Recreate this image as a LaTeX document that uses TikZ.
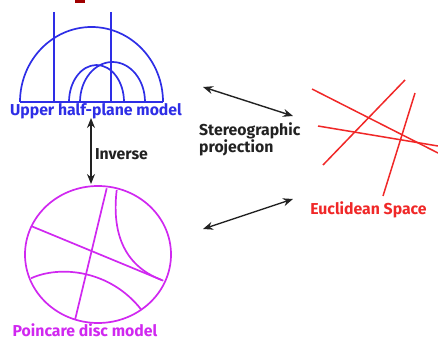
\documentclass[tikz,border=0pt]{standalone}
\usepackage{fontspec}
\setmainfont{Fira Sans}
\usepackage{tikz}
\usetikzlibrary{arrows.meta}
\definecolor{halfplane}{HTML}{2E2EE6}
\definecolor{poincare}{HTML}{D028F0}
\definecolor{euclid}{HTML}{F02828}
\definecolor{titlered}{HTML}{A00000}
\definecolor{labelgray}{HTML}{222222}

\begin{document}
\begin{tikzpicture}[x=1pt,y=1pt,
        model/.style={line width=1.7pt},
        label/.style={font=\bfseries\fontsize{15.8}{16}\selectfont,inner sep=0pt,anchor=base},
        twoway/.style={{Stealth[length=10pt,width=8pt]}-{Stealth[length=10pt,width=8pt]},
          line width=1.4pt,draw=labelgray}]
        \useasboundingbox (0,0) rectangle (438,-339);
        \fill[titlered] (75,0) rectangle (85,-3.5);
        % upper half-plane: boundary line, geodesics as arcs and verticals
        \begin{scope}[model,draw=halfplane]
          \draw (20,-102) -- (163,-102);
          \draw (20,-102) arc [start angle=180,end angle=0,x radius=71.5,y radius=75];
          \draw (69,-102) arc [start angle=180,end angle=0,x radius=27.5,y radius=37];
          \draw (80,-102) arc [start angle=180,end angle=0,x radius=32.5,y radius=40];
          \draw (54,-12) -- (54,-102);
          \draw (111,-12) -- (111,-102);
        \end{scope}
        \node[label,text=halfplane] (uhp) at (96,-116) {Upper half-plane model};
        % poincare disc
        \begin{scope}[model,draw=poincare]
          \draw (98,-254.5) ellipse [x radius=73,y radius=68.5];
          \draw (106.7,-188.3) -- (75,-320);
          \draw (31,-226) -- (163.3,-280.7);
          \draw (116.7,-190) .. controls (112,-230) and (122,-265) .. (161.7,-280);
          \draw (31,-278.3) .. controls (60,-265) and (110,-270) .. (141,-309.3);
        \end{scope}
        \node[label,text=poincare] (disc) at (85,-336) {Poincare disc model};
        % euclidean lines
        \begin{scope}[model,line width=1.5pt,draw=euclid]
          \draw (312,-89) -- (438,-153);
          \draw (323,-165) -- (405,-80);
          \draw (318,-126) -- (438,-146);
          \draw (415,-93) -- (383,-196);
        \end{scope}
        \node[label,text=euclid] (space) at (368.5,-214) {Euclidean Space};
        \node[label,text=labelgray] (inverse) at (121.5,-159) {Inverse};
        \node[label,text=labelgray,align=left,anchor=base west] (stereo) at (199,-153)
          {Stereographic\\projection};
        \coordinate (uhpfoot) at (91,-118);
        \coordinate (disctop) at (91,-184);
        \coordinate (uhpside) at (203,-87);
        \coordinate (spacetop) at (293,-116);
        \coordinate (spacefoot) at (293,-199);
        \coordinate (discside) at (203,-229);
        \draw[twoway] (uhpfoot) -- (disctop);
        \draw[twoway] (uhpside) -- (spacetop);
        \draw[twoway] (spacefoot) -- (discside);
      \end{tikzpicture}
\end{document}
